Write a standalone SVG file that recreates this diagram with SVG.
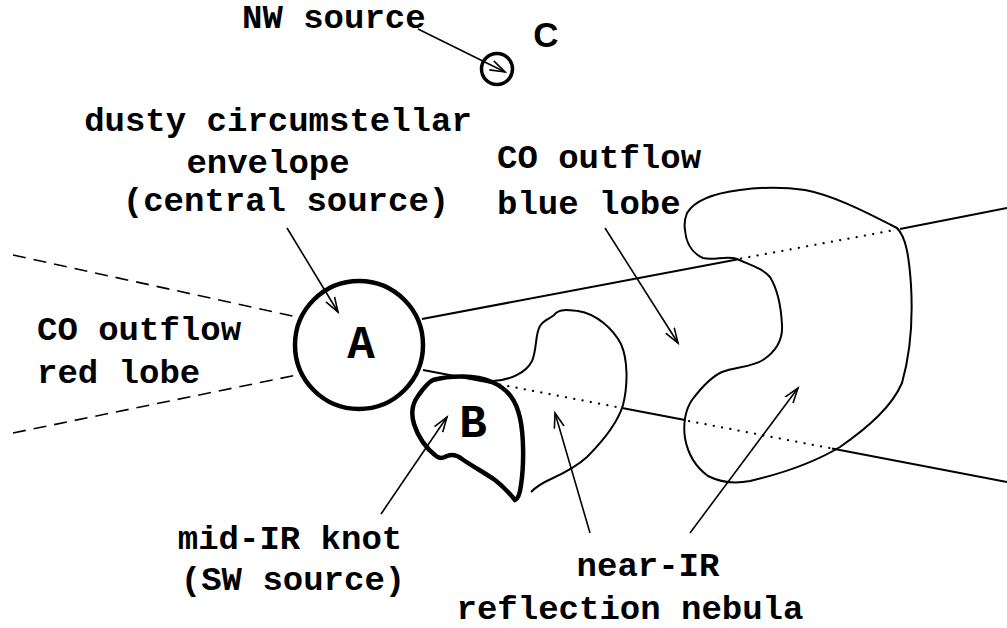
<svg xmlns="http://www.w3.org/2000/svg" width="1007" height="628" viewBox="0 0 1007 628">
<style>
.t{font-family:"Liberation Mono","Courier New",monospace;font-weight:bold;font-size:34px;fill:#000}
.big{font-family:"Liberation Mono","Courier New",monospace;font-weight:bold;font-size:46px;fill:#000}
.thin{fill:none;stroke:#000;stroke-width:2}
.thick{fill:none;stroke:#000;stroke-width:4.5}
.solid{fill:none;stroke:#000;stroke-width:2}
.dash{fill:none;stroke:#000;stroke-width:1.6;stroke-dasharray:13 8}
.dot{fill:none;stroke:#000;stroke-width:2.2;stroke-dasharray:0.1 8.3;stroke-linecap:round}
.arr{fill:none;stroke:#000;stroke-width:1.6;marker-end:url(#ah)}
</style>
<defs>
<marker id="ah" markerUnits="userSpaceOnUse" markerWidth="20" markerHeight="12" refX="15" refY="5" orient="auto" viewBox="0 0 20 10">
<path d="M0,0 L15,5 L0,10" fill="none" stroke="#000" stroke-width="1.6"/>
</marker>
</defs>
<rect width="1007" height="628" fill="#fff"/>

<g id="connectors">
<line class="dash" x1="13" y1="255" x2="297" y2="317"/>
<line class="dash" x1="13" y1="433" x2="297" y2="375"/>
<line class="solid" x1="422" y1="319" x2="737" y2="259.5"/>
<line class="dot" x1="741" y1="258.5" x2="900" y2="229"/>
<line class="solid" x1="900" y1="229" x2="1007" y2="208"/>
<line class="solid" x1="423" y1="370" x2="497" y2="384"/>
<line class="dot" x1="500" y1="384.5" x2="622" y2="408"/>
<line class="solid" x1="622" y1="408" x2="685" y2="420"/>
<line class="dot" x1="689" y1="421" x2="832" y2="448.5"/>
<line class="solid" x1="832" y1="448.5" x2="1007" y2="482"/>
<line class="arr" x1="418" y1="29" x2="505" y2="72"/>
<line class="arr" x1="287" y1="228" x2="338" y2="312"/>
<line class="arr" x1="605" y1="228" x2="678" y2="343"/>
<line class="arr" x1="381" y1="514" x2="447" y2="417"/>
<line class="arr" x1="590" y1="533" x2="555" y2="413"/>
<line class="arr" x1="690" y1="533" x2="798" y2="388"/>
</g>

<g id="nodeA">
<circle class="thick" cx="359" cy="345" r="64"/>
<text class="big" x="361" y="358" text-anchor="middle">A</text>
</g>

<g id="nodeB">
<path class="thick" d="M433,380 C452,375 475,375 492,382 C508,389 516,400 520,418 C524,436 524,465 521,485 C520,493 518,499 515,500 C510,494 504,487 495,480 C485,473 472,466 462,459 C457,455 452,454 447,456 C443,458 440,459 436,456 C426,448 418,437 414,424 C411,414 412,404 418,396 C423,389 427,383 433,380 Z"/>
<text class="big" x="473" y="437" text-anchor="middle">B</text>
</g>

<g id="nodeC">
<circle cx="497" cy="69" r="15.5" fill="none" stroke="#000" stroke-width="3.5"/>
<text x="546" y="47" text-anchor="middle" font-family="Liberation Sans, Arial, sans-serif" font-weight="bold" font-size="35">C</text>
</g>

<g id="nebula-small">
<path class="thin" d="M493,381 C510,380 526,373 532,361 C537,350 535,334 540,326 C545,318 552,319 556,313 C560,309 568,310 578,311 C597,314 613,329 621,344 C628,360 628,385 623,405 C617,425 601,443 587,457 C575,468 562,474 551,479 C542,483 536,487 531,492"/>
</g>

<g id="lobe-blue">
<path class="thin" d="M687,213 C695,200 715,193 740,190 C762,187 785,187 805,190 C832,195 862,210 897,228 C906,237 909,256 911,285 C913,320 910,355 902,383 C892,406 870,426 840,447 C815,462 780,474 750,481 C735,484 720,482 708,476 C697,468 688,455 685,438 C683,425 685,410 692,400 C701,388 711,377 722,372 C735,367 752,367 763,360 C775,352 783,340 782,325 C781,305 778,290 770,277 C762,268 750,265 737,259 C726,255 714,261 703,258 C692,253 686,243 685,230 C684,224 685,218 687,213 Z"/>
</g>

<g id="labels">
<text class="t" x="242" y="28">NW source</text>
<text class="t" x="278" y="131" text-anchor="middle">dusty circumstellar</text>
<text class="t" x="268" y="173" text-anchor="middle">envelope</text>
<text class="t" x="286" y="211" text-anchor="middle">(central source)</text>
<text class="t" x="497" y="168">CO outflow</text>
<text class="t" x="497" y="214">blue lobe</text>
<text class="t" x="37" y="340">CO outflow</text>
<text class="t" x="37" y="383">red lobe</text>
<text class="t" x="290" y="549" text-anchor="middle">mid-IR knot</text>
<text class="t" x="293" y="590" text-anchor="middle">(SW source)</text>
<text class="t" x="648" y="576" text-anchor="middle">near-IR</text>
<text class="t" x="630" y="619" text-anchor="middle">reflection nebula</text>
</g>
</svg>
